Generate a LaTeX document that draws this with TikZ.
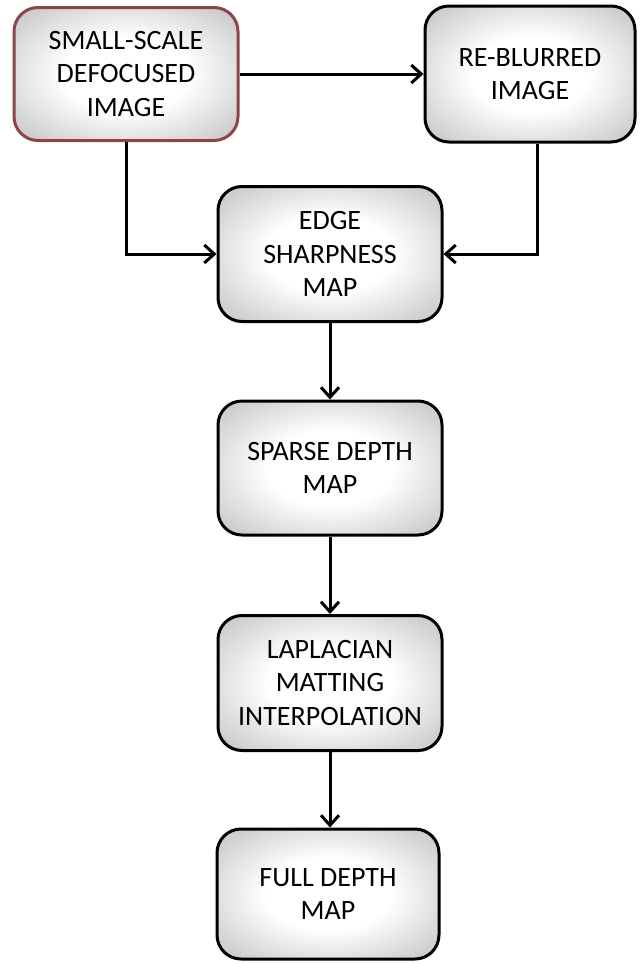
\documentclass[tikz,border=0pt]{standalone}
\usepackage{fontspec}
\setmainfont{Carlito}
\usetikzlibrary{arrows.meta,fadings}

% soft white-centred glow that darkens toward the box rim
\pgfdeclareradialshading{boxglow}{\pgfpoint{0bp}{0bp}}{%
  color(0bp)=(white); color(14bp)=(white); color(32bp)=(black!20);
  color(44bp)=(black!42); color(50bp)=(black!58); color(70bp)=(black!58)}

% soft highlight strip, strongest in its lower middle
\pgfdeclarefading{glossfade}{%
  \tikz\shade[inner color=transparent!15, outer color=transparent!100]
    (0,0) rectangle (2,1);}

\definecolor{rimred}{RGB}{140,70,75}

\tikzset{
  stage/.style={draw=black, line width=3pt, rounded corners=24pt,
    shading=boxglow, align=center, text=black,
    font=\fontsize{28}{33.5}\selectfont, inner sep=0pt,
    path picture={
      \fill[white, path fading=glossfade, fit fading=true]
        ([xshift=6pt,yshift=1pt]path picture bounding box.south west)
        rectangle ([xshift=-6pt,yshift=26pt]path picture bounding box.south east);
    }},
  flow/.style={line width=3pt, -{Straight Barb[length=10pt,width=18pt,line width=3pt]}}
}

\begin{document}
\begin{tikzpicture}[x=1pt,y=-1pt]
\useasboundingbox (0,0) rectangle (640,964);

\node[stage, draw=rimred, minimum width=224pt, minimum height=133pt] (small) at (126,74)
  {SMALL-SCALE\\DEFOCUSED\\IMAGE};
\node[stage, minimum width=210pt, minimum height=136pt] (reblur) at (530,74)
  {RE-BLURRED\\IMAGE};
\node[stage, minimum width=224pt, minimum height=135pt] (edge) at (330,254)
  {EDGE\\SHARPNESS\\MAP};
\node[stage, minimum width=224pt, minimum height=134pt] (sparse) at (330,468)
  {SPARSE DEPTH\\MAP};
\node[stage, minimum width=224pt, minimum height=135pt] (lap) at (330,683)
  {LAPLACIAN\\MATTING\\INTERPOLATION};
\node[stage, minimum width=222pt, minimum height=130pt] (full) at (328,894)
  {FULL DEPTH\\MAP};

\draw[flow] (small.east) -- (reblur.west |- small.east);
\draw[flow] (small.south) |- (edge.west);
\draw[flow] (reblur.south -| 537,0) |- (edge.east);
\draw[flow] (edge.south) -- (sparse.north);
\draw[flow] (sparse.south) -- (lap.north);
\draw[flow] (lap.south) -- (full.north -| lap.south);
\end{tikzpicture}
\end{document}
